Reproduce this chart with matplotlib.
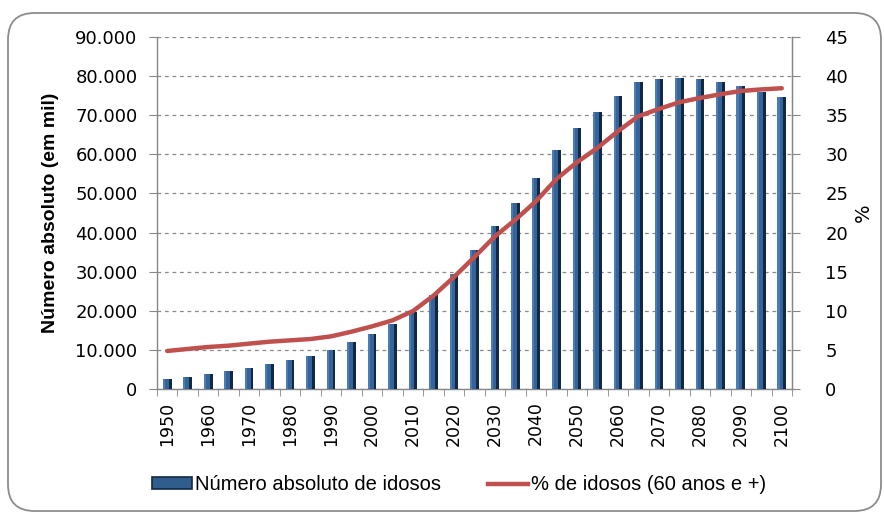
import matplotlib
matplotlib.use("Agg")
import matplotlib.pyplot as plt
import numpy as np
from matplotlib.patches import FancyBboxPatch, Patch
from matplotlib.lines import Line2D
from matplotlib.ticker import FuncFormatter, FixedLocator

years = list(range(1950, 2101, 5))
idosos_mil = [2560, 3000, 3840, 4690, 5370, 6480, 7500, 8530, 10060, 11940,
              14150, 16540, 19600, 24040, 29500, 35630, 41600, 47570, 54050, 61210,
              66840, 70930, 74850, 78600, 79280, 79620, 79280, 78600, 77580, 75870,
              74680]
pct_idosos = [4.86, 5.12, 5.37, 5.54, 5.80, 6.05, 6.22, 6.39, 6.73, 7.33,
              8.01, 8.78, 9.97, 11.94, 14.32, 16.88, 19.52, 21.65, 24.0, 26.85,
              28.98, 30.82, 32.95, 34.87, 35.8, 36.66, 37.2, 37.68, 38.1, 38.3,
              38.45]
bar_label = "Número absoluto de idosos"
line_label = "% de idosos (60 anos e +)"
left_ylabel = "Número absoluto (em mil)"
right_ylabel = "%"

W, H = 884, 513
fig = plt.figure(figsize=(W / 100, H / 100), dpi=100)
fig.patch.set_facecolor("white")

# rounded border
border = FancyBboxPatch((8 / W, 2 / H), (873) / W, (498) / H,
                        boxstyle="round,pad=0,rounding_size=0.03",
                        transform=fig.transFigure, facecolor="none",
                        edgecolor="#8c8c8c", linewidth=1.3, mutation_aspect=W / H)
fig.patches.append(border)

ax = fig.add_axes([157 / W, (H - 389) / H, (792 - 157) / W, (389 - 37) / H])
x = np.arange(len(years))

# bars: light body + dark right shade for a cylinder look
bw = 0.42
ax.bar(x, idosos_mil, width=bw, color="#34649A", edgecolor="none", zorder=3)
ax.bar(x + bw / 2 - 0.07, idosos_mil, width=0.14, color="#132841", edgecolor="none", zorder=3)
ax.bar(x - bw / 2 + 0.05, idosos_mil, width=0.10, color="#4A7DB4", edgecolor="none", zorder=3)

ax.set_xlim(-0.5, len(years) - 0.5)
ax.set_ylim(0, 90000)
ax.set_yticks(np.arange(0, 90001, 10000))
ax.yaxis.set_major_formatter(FuncFormatter(lambda v, p: "0" if v == 0 else f"{int(v):,}".replace(",", ".")))
ax.grid(axis="y", color="#8a8a8a", linestyle=(0, (3, 3)), linewidth=0.9, zorder=0)
ax.set_axisbelow(True)

ax.set_xticks(x[::2])
ax.set_xticklabels([str(y) for y in years[::2]], rotation=90, fontsize=12.5, family="DejaVu Sans")
ax.xaxis.set_minor_locator(FixedLocator(np.arange(-0.5, len(years), 1.0)))
ax.tick_params(axis="x", which="major", length=0, pad=9)
ax.tick_params(axis="x", which="minor", length=5, color="#868686", direction="out")
ax.tick_params(axis="y", which="major", length=6, color="#868686", labelsize=13, pad=8)

for s in ["top"]:
    ax.spines[s].set_visible(False)
for s in ["left", "right", "bottom"]:
    ax.spines[s].set_color("#868686")
    ax.spines[s].set_linewidth(1.0)

ax.set_ylabel(left_ylabel, fontsize=14, fontweight="bold", family="Liberation Sans", labelpad=12)

ax2 = ax.twinx()
ax2.plot(x, pct_idosos, color="#C0504D", linewidth=3.2, solid_capstyle="round", zorder=5)
ax2.set_ylim(0, 45)
ax2.set_yticks(np.arange(0, 46, 5))
ax2.tick_params(axis="y", length=6, color="#868686", labelsize=13, pad=18)
for s in ["top", "left", "bottom"]:
    ax2.spines[s].set_visible(False)
ax2.spines["right"].set_color("#868686")
ax2.set_ylabel(right_ylabel, fontsize=14, rotation=90, labelpad=4)

handles = [Patch(facecolor="#2F5D8C", edgecolor="#132841", linewidth=1.2),
           Line2D([0], [0], color="#C0504D", linewidth=3.2)]
fig.legend(handles, [bar_label, line_label], loc="center", ncol=2,
           bbox_to_anchor=(459 / W, (H - 485) / H), frameon=False,
           prop={"family": "Liberation Sans", "size": 14.5},
           handlelength=2.0, handleheight=0.55, handletextpad=0.15, columnspacing=2.3)

fig.savefig("out.png", dpi=100, facecolor="white")
